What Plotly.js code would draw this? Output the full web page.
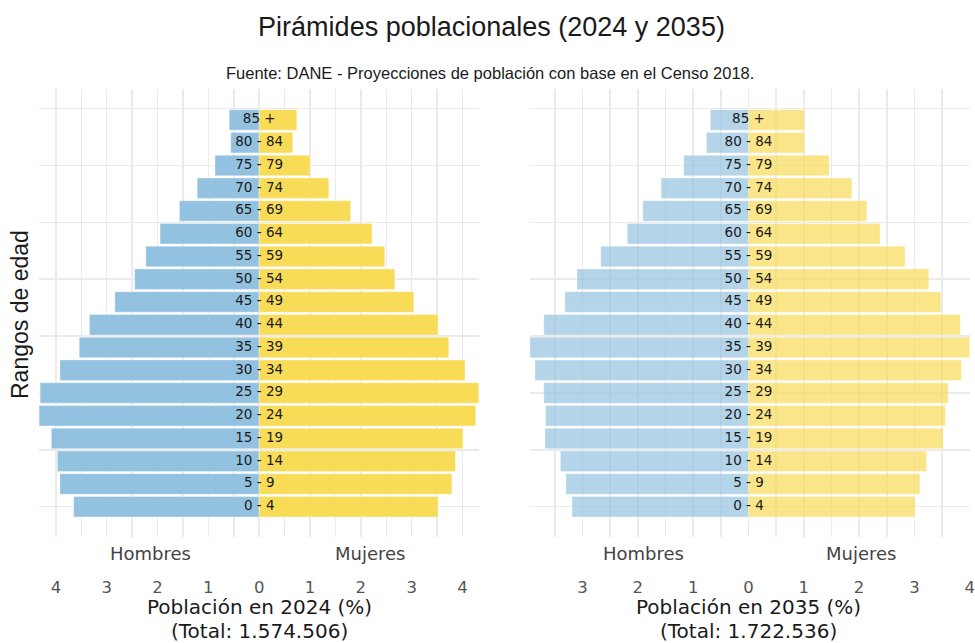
<!DOCTYPE html>
<html><head><meta charset="utf-8">
<script src="https://cdn.plot.ly/plotly-3.0.1.min.js"></script>
<style>html,body{margin:0;padding:0;background:#fff}</style>
</head><body><div id="chart" style="width:975px;height:643px"></div>
<script>
const ageGroups = ["0 - 4","5 - 9","10 - 14","15 - 19","20 - 24","25 - 29","30 - 34","35 - 39","40 - 44","45 - 49","50 - 54","55 - 59","60 - 64","65 - 69","70 - 74","75 - 79","80 - 84","85 +"];
const men2024   = [3.65, 3.92, 3.97, 4.09, 4.33, 4.31, 3.92, 3.54, 3.34, 2.84, 2.45, 2.23, 1.95, 1.57, 1.22, 0.87, 0.56, 0.59];
const women2024 = [3.52, 3.79, 3.86, 4.01, 4.26, 4.32, 4.05, 3.73, 3.52, 3.04, 2.67, 2.47, 2.22, 1.80, 1.37, 1.00, 0.66, 0.74];
const men2035   = [3.19, 3.30, 3.40, 3.68, 3.67, 3.70, 3.86, 3.95, 3.70, 3.32, 3.10, 2.67, 2.19, 1.91, 1.58, 1.17, 0.76, 0.69];
const women2035 = [3.01, 3.10, 3.22, 3.52, 3.56, 3.61, 3.85, 4.00, 3.83, 3.48, 3.26, 2.83, 2.38, 2.14, 1.87, 1.46, 1.01, 1.01];
const tickVals = [-4,-3,-2,-1,0,1,2,3,4];
const tickText = ["4","3","2","1","0","1","2","3","4"];
const ygridVals = [0,2.5,5,7.5,10,12.5,15,17.5];
const sexLabels = ["Hombres","Mujeres"];
const chartTitle = "Pirámides poblacionales (2024 y 2035)";
const sourceText = "Fuente: DANE - Proyecciones de población con base en el Censo 2018.";
const xTitles2024 = ["Población en 2024 (%)","(Total: 1.574.506)"];
const xTitles2035 = ["Población en 2035 (%)","(Total: 1.722.536)"];
const yTitle = "Rangos de edad";

const MEN = '#93C2E0', WOMEN = '#F8DC58';
const idx = ageGroups.map((_, i) => i);

function bars(vals, color, xa, ya, op, neg) {
  return {type:'bar', orientation:'h', x: vals.map(v => neg ? -v : v), y: idx,
    width:0.9, xaxis:xa, yaxis:ya, opacity:op, hoverinfo:'skip',
    marker:{color:color, line:{color:'rgba(255,255,255,0.6)', width:0.6}}};
}
function labels(xa, ya) {
  return {type:'scatter', mode:'text', x: idx.map(() => 0), y: idx, text: ageGroups,
    xaxis:xa, yaxis:ya, hoverinfo:'skip',
    textfont:{family:'DejaVu Sans', size:13.5, color:'#1a1a1a'}};
}
const data = [
  bars(men2024, MEN, 'x', 'y', 1, true),
  bars(women2024, WOMEN, 'x', 'y', 1, false),
  bars(men2035, MEN, 'x2', 'y2', 0.7, true),
  bars(women2035, WOMEN, 'x2', 'y2', 0.7, false),
  labels('x','y'),
  labels('x2','y2')
];

const G = '#ebebeb';
function xax(domain, range, anchor) {
  return {domain, range, anchor, tickmode:'array', tickvals:tickVals, ticktext:tickText,
    showgrid:true, gridcolor:G, gridwidth:1.5, zeroline:false, showline:false, ticks:'',
    tickfont:{family:'DejaVu Sans', size:16.5, color:'#555'}, ticklabelstandoff:38,
    minor:{dtick:0.5, tick0:0, showgrid:true, gridcolor:G, gridwidth:1.5, ticks:''},
    fixedrange:true};
}
function yax(anchor) {
  return {anchor, domain:[0,1], range:[-1.33,18.36], tickmode:'array', tickvals:ygridVals,
    showticklabels:false, showgrid:true, gridcolor:G, gridwidth:1.5, zeroline:false,
    showline:false, ticks:'', fixedrange:true};
}
const py = p => (537 - p) / 448;
const px = p => (p - 39) / 931;
const annFont = {family:'DejaVu Sans', size:18, color:'#444'};
const titleFont = {family:'DejaVu Sans', size:20, color:'#1a1a1a'};
function ann(text, xref, x, y, font, extra) {
  return Object.assign({text, xref, yref:'paper', x, y, xanchor:'center', yanchor:'middle',
    showarrow:false, borderpad:0, font}, extra || {});
}
const annotations = [
  ann(sourceText, 'paper', px(490), py(73), {family:'Liberation Sans', size:16.5, color:'#1a1a1a'}),
  ann(yTitle, 'paper', px(20), py(315), {family:'Liberation Sans', size:23, color:'#1a1a1a'}, {textangle:-90}),
  ann(sexLabels[0], 'paper', px(150), py(553), annFont),
  ann(sexLabels[1], 'paper', px(369.5), py(553), annFont),
  ann(sexLabels[0], 'paper', px(643), py(553), annFont),
  ann(sexLabels[1], 'paper', px(860.5), py(553), annFont),
  ann(xTitles2024[0], 'x', 0, py(607), titleFont),
  ann(xTitles2024[1], 'x', 0, py(631), titleFont),
  ann(xTitles2035[0], 'x2', 0, py(607), titleFont),
  ann(xTitles2035[1], 'x2', 0, py(631), titleFont)
];
const layout = {
  width:975, height:643,
  margin:{l:39, r:5, t:89, b:106},
  paper_bgcolor:'#fff', plot_bgcolor:'#fff',
  showlegend:false, barmode:'overlay', bargap:0,
  font:{family:'DejaVu Sans', color:'#444'},
  title:{text:chartTitle, font:{family:'Liberation Sans', size:27, color:'#1a1a1a'},
    xref:'container', x:491.5/975, xanchor:'center', yref:'container', y:1-27/643, yanchor:'middle'},
  xaxis: xax([0, 440/931], [-4.332, 4.324], 'y'),
  yaxis: yax('x'),
  xaxis2: xax([491/931, 1], [-3.95, 4.005], 'y2'),
  yaxis2: yax('x2'),
  annotations
};
Plotly.newPlot('chart', data, layout, {displayModeBar:false, staticPlot:true});
</script></body></html>
